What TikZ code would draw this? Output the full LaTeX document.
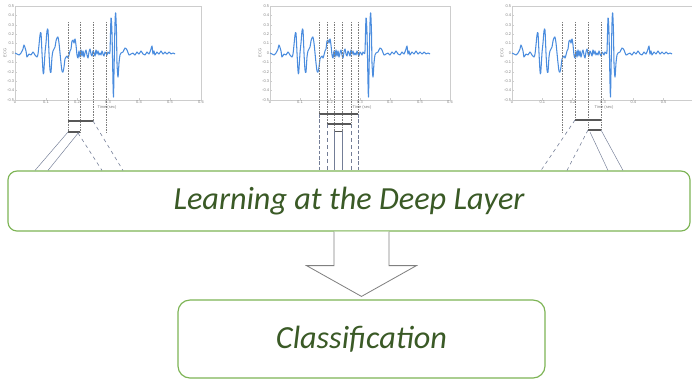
\documentclass[tikz,border=0pt]{standalone}
\usepackage{fontspec}
\setmainfont{Carlito}
\newfontfamily\axisfont{Liberation Sans}
\usetikzlibrary{positioning,calc}

\definecolor{boxgreen}{RGB}{125,180,85}
\definecolor{textgreen}{RGB}{58,90,38}
\definecolor{tracecolor}{RGB}{74,140,222}
\definecolor{axisgray}{RGB}{205,205,205}
\definecolor{guidegray}{RGB}{125,125,125}
\definecolor{linkgray}{RGB}{115,125,150}

\tikzset{
  stagebox/.style={draw=boxgreen, line width=1pt, fill=white, text=textgreen,
    font=\itshape\fontsize{27.5}{32}\selectfont},
  axisline/.style={draw=axisgray, line width=0.3pt},
  ticklabel/.style={text=gray, inner sep=0.6pt, font=\axisfont\fontsize{3.4}{4}\selectfont},
  trace/.style={draw=tracecolor, line width=0.9pt, line join=round},
  guide/.style={draw=guidegray, densely dotted, line width=0.4pt},
  bracket/.style={draw=guidegray!70!black, line width=0.9pt},
  link/.style={draw=linkgray, line width=0.4pt},
  dashlink/.style={draw=linkgray, dashed, line width=0.5pt},
  hollowarrow/.style={draw=gray, fill=white, line width=0.7pt, line join=miter}
}

\newcommand{\drawtrace}{%
  \draw[trace] plot[smooth, tension=0.45] coordinates {
    (0,0) (2,1) (4,2) (6,0) (8,-4) (9,-8) (11,-2) (12,4) (14,1) (16,2)
    (18,-1) (20,2) (22,4) (23,1) (24,-8) (25,-18) (26,-20) (27,0) (28,18)
    (28.7,20) (30,0) (31,-10) (32,-22) (33,-23) (34,0) (35,17) (36,19)
    (37,4) (38,-2) (40,-6) (41,-12) (42,-15) (43,-16) (44,-10) (45,0)
    (46,10) (47,18) (48,19) (49,14) (50,6) (51,4) (52,3) (53,5) (54,2)
    (55,-2) (56,-4) (57,-12) (58,-13) (59,-10) (60,-14) (61,-8) (62,2)
    (63,5) (64,-2) (65,4) (66,-3) (67,3) (68,-2) (69,4) (70,0) (71,-3)
    (72,2) (73,5) (74,-1) (75,-4) (76,1) (77,3) (78,-2) (79,0) (80,3)
    (81,-3) (82,1) (83,-2) (84,2) (85,0) (86,2) (87,-2) (88,1) (89,3)
    (90,-1) (91,0) (92,2) (93,-1) (94,0) (95,-2) (96,-35) (97,-20) (98,30)
    (98.5,44) (99,20) (100,-30) (100.7,-40) (101.5,-20) (102,10) (103,24)
    (104,10) (105,2) (106,0) (108,-1) (110,-5) (112,-3) (114,2) (116,1)
    (118,0) (120,2) (122,-1) (124,1) (126,-2) (128,1) (130,2) (132,-1)
    (134,1) (136,-4) (137,-7) (138,1) (139,-2) (140,2) (142,-1) (144,1)
    (146,-2) (148,1) (150,-1) (152,1) (154,-1) (156,1) (158,0) (160,1)};}

% #1 left edge, #2 frame width, #3 last labelled tick
\newcommand{\ecgpanel}[3]{%
  \begin{scope}[shift={(#1,53)}]
    \draw[axisline] (0,-47) rectangle (#2,47);
    \foreach \i in {0,...,#3} {
      \draw[axisline] (\i*#2/6,47) -- ++(0,-2);
      \node[ticklabel, below] at (\i*#2/6,47) {\ifnum\i=0 0\else 0.\i\fi};
    }
    \foreach \j/\lab in {5/0.5,4/0.4,3/0.3,2/0.2,1/0.1,0/0,-1/-0.1,-2/-0.2,-3/-0.3,-4/-0.4,-5/-0.5} {
      \draw[axisline] (0,-\j*9.4) -- ++(2,0);
      \node[ticklabel, left] at (0,-\j*9.4) {\lab};
    }
    \node[ticklabel] at (92,54) {Time (sec)};
    \node[ticklabel, rotate=90] at (-10,0) {ECG};
    \drawtrace
  \end{scope}}

\begin{document}
\begin{tikzpicture}[x=0.03cm,y=-0.03cm]
  \useasboundingbox (0,0) rectangle (692,379);

  \ecgpanel{15}{186}{6}
  \ecgpanel{270}{180}{6}
  \ecgpanel{512}{182}{5}

  \node[stagebox, rounded corners=0.27cm, minimum width=20.46cm, minimum height=1.8cm]
    (deep) at (349,201) {Learning at the Deep Layer};
  \node[stagebox, rounded corners=0.36cm, minimum width=11.01cm, minimum height=2.34cm]
    (cls) at (361.5,339) {Classification};

  \coordinate (p1a) at (68,121);
  \coordinate (p1b) at (93,121);
  \coordinate (p1c) at (68,132);
  \coordinate (p1d) at (80,132);
  \foreach \x/\yend in {68/132,80/132,93/121,106/133}
    \draw[guide] (\x,22) -- (\x,\yend);
  \draw[bracket] (p1a) -- (p1b);
  \draw[bracket] (p1c) -- (p1d);
  \draw[link] (p1c) -- (35,0 |- deep.north);
  \draw[link] (79,132) -- (48,0 |- deep.north);
  \draw[dashlink] (78,133) -- (102,0 |- deep.north);
  \draw[dashlink] (p1b) -- (123,0 |- deep.north);

  \coordinate (p2a) at (319,114);
  \coordinate (p2b) at (358,114);
  \coordinate (p2c) at (327,124);
  \coordinate (p2d) at (351,124);
  \coordinate (p2e) at (334,131);
  \coordinate (p2f) at (342,131);
  \draw[guide] (319,22) -- (p2a);
  \draw[guide] (358,22) -- (p2b);
  \draw[guide] (327,22) -- (p2c);
  \draw[guide] (351,22) -- (p2d);
  \draw[guide] (334,22) -- (p2e);
  \draw[guide] (342,22) -- (p2f);
  \draw[bracket] (p2a) -- (p2b);
  \draw[bracket] (p2c) -- (p2d);
  \draw[bracket, line width=0.5pt] (p2e) -- (p2f);
  \draw[dashlink, dash pattern=on 3pt off 1.5pt] (p2a) -- (p2a |- deep.north);
  \draw[dashlink, dash pattern=on 3pt off 1.5pt] (p2b) -- (p2b |- deep.north);
  \draw[dashlink] (p2c) -- (p2c |- deep.north);
  \draw[dashlink] (p2d) -- (p2d |- deep.north);
  \draw[link] (p2e) -- (p2e |- deep.north);
  \draw[link] (p2f) -- (p2f |- deep.north);

  \coordinate (p3a) at (575,120);
  \coordinate (p3b) at (601,120);
  \coordinate (p3c) at (588,130);
  \coordinate (p3d) at (601,130);
  \foreach \x/\yend in {562/132,575/120,588/130,601/130}
    \draw[guide] (\x,22) -- (\x,\yend);
  \draw[bracket] (p3a) -- (p3b);
  \draw[bracket] (p3c) -- (p3d);
  \draw[dashlink] (p3a) -- (541,0 |- deep.north);
  \draw[dashlink] (p3c) -- (567,0 |- deep.north);
  \draw[link] (590,132) -- (608,0 |- deep.north);
  \draw[link] (p3d) -- (623,0 |- deep.north);

  \coordinate (ashaft) at (deep.south -| cls.north);
  \filldraw[hollowarrow] ($(ashaft)+(-27.5,0)$) -- ++(0,34) -- ++(-27.5,0)
    -- ($(cls.north)+(0,-3)$) -- ($(ashaft)+(55,34)$) -- ++(-27.5,0)
    -- ($(ashaft)+(27.5,0)$);
\end{tikzpicture}
\end{document}
